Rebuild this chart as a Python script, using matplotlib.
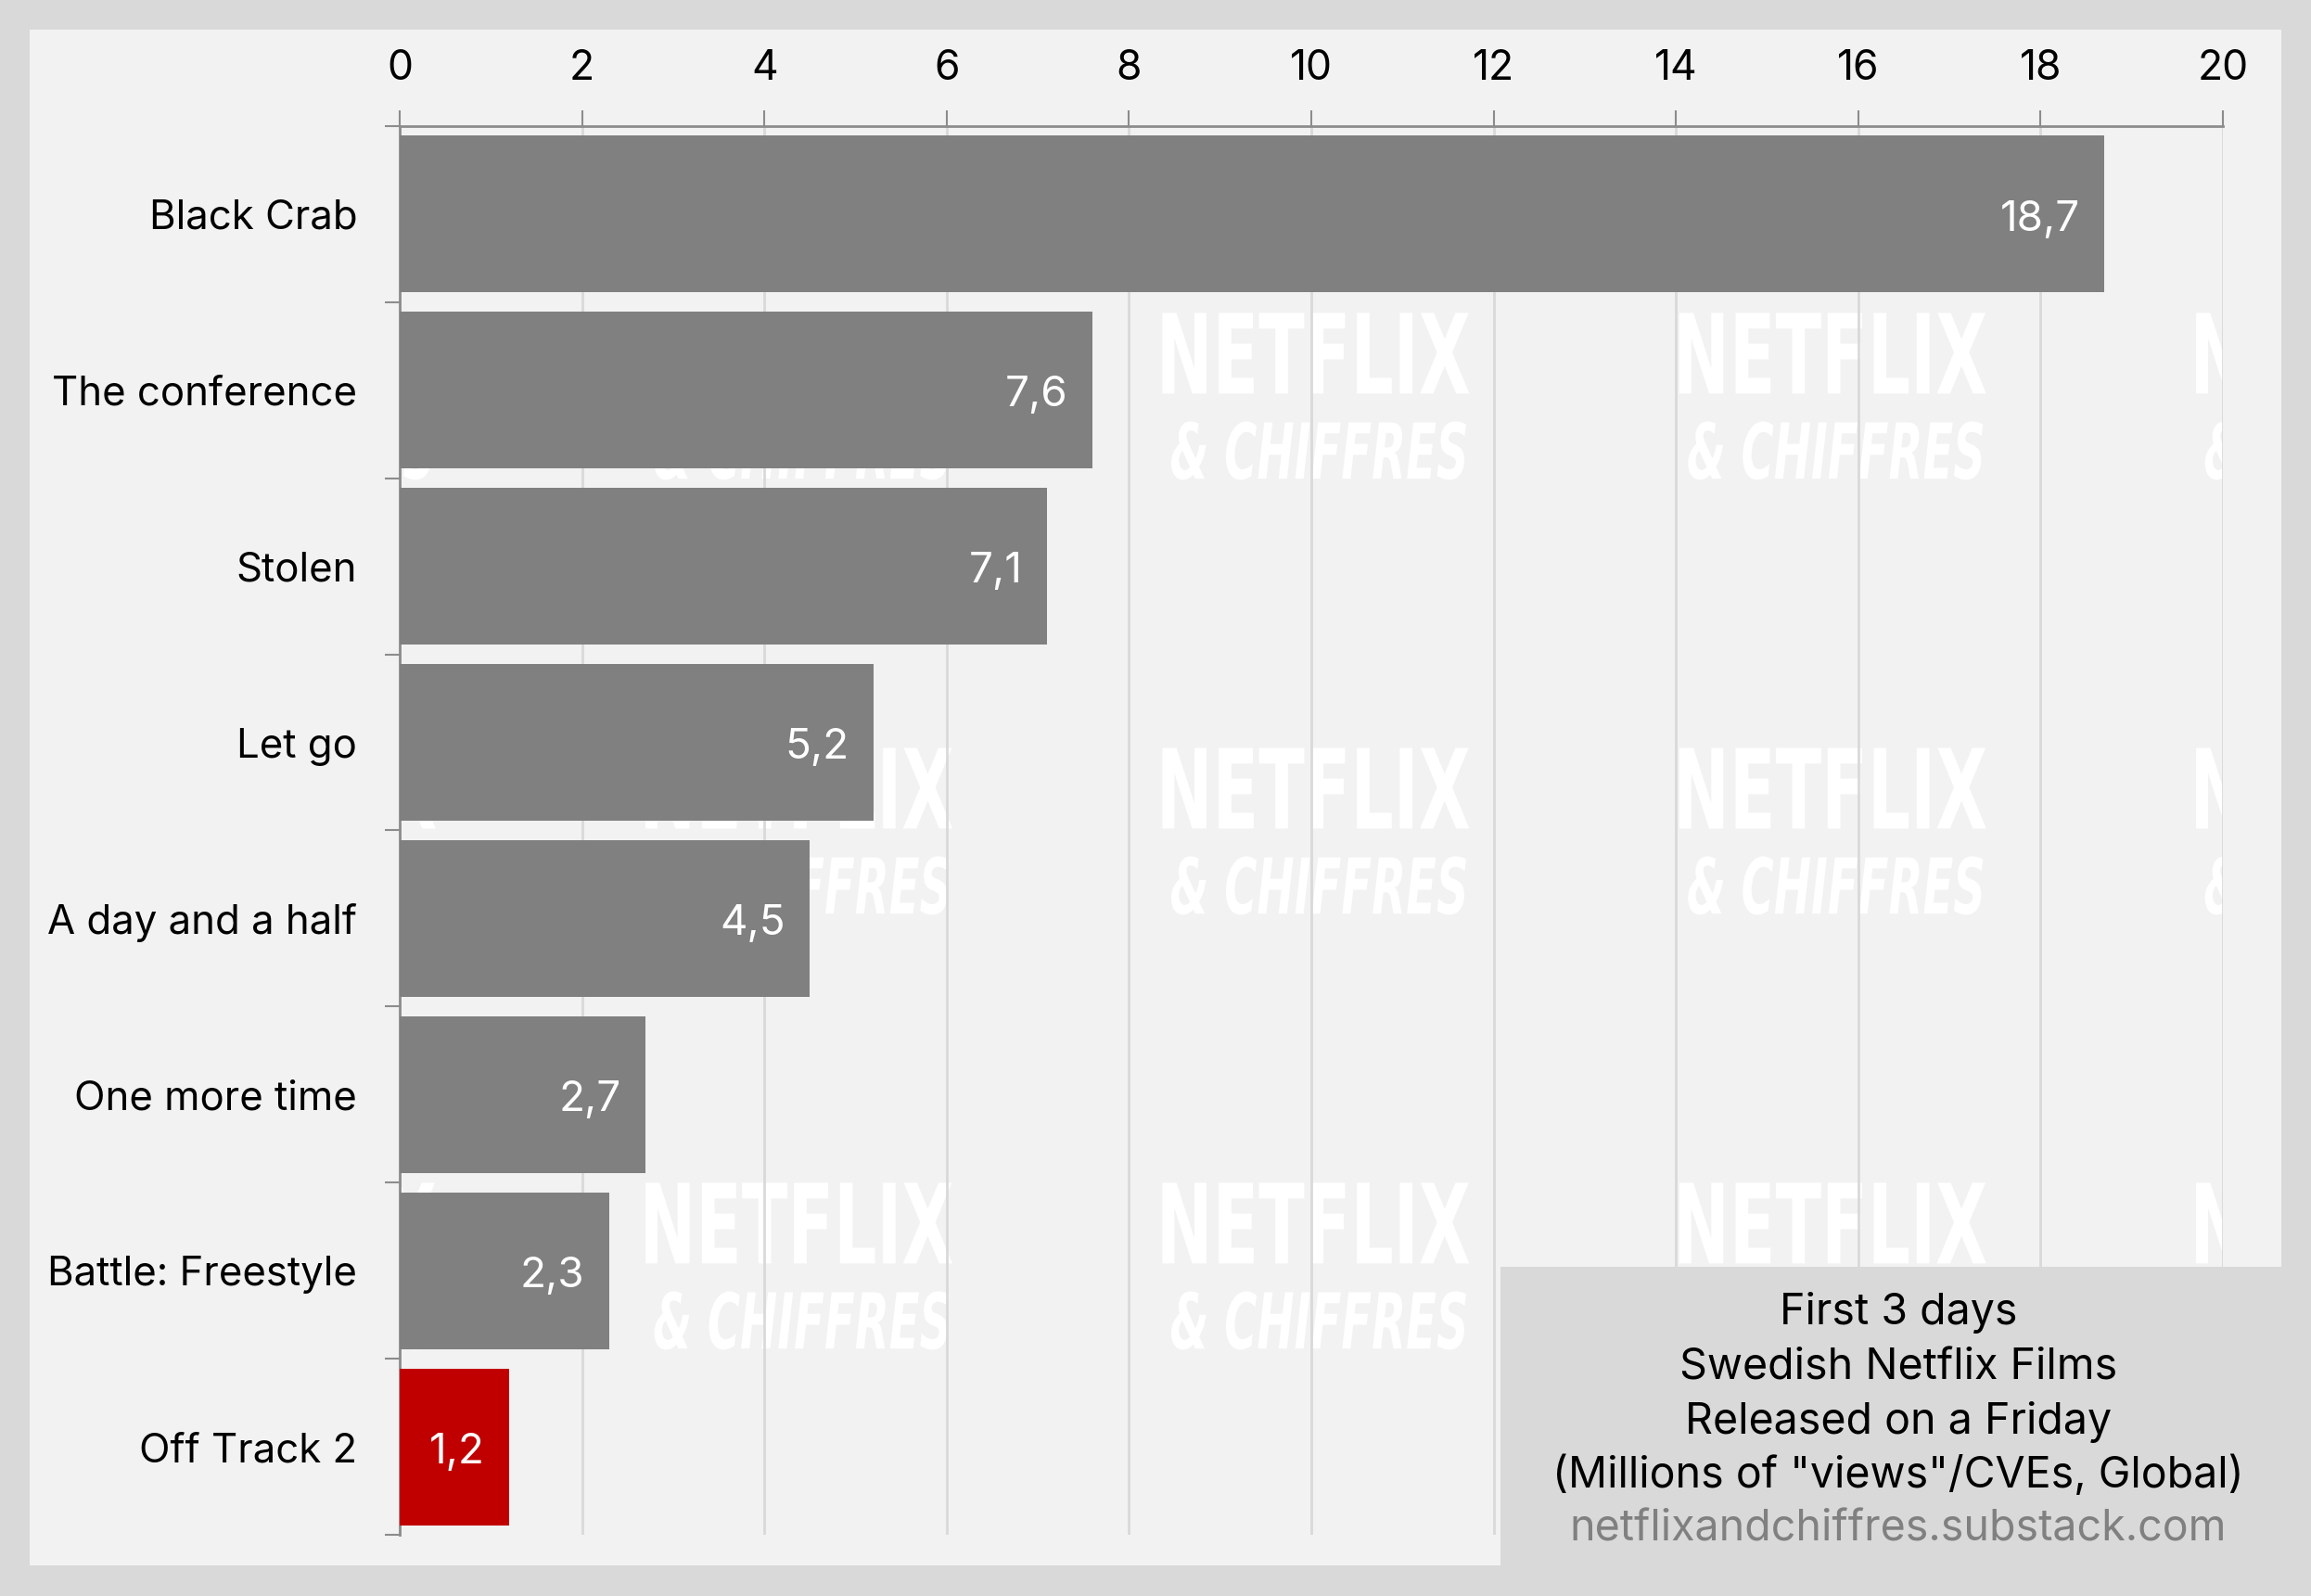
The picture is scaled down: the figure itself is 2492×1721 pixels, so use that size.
import matplotlib
matplotlib.use("Agg")
import matplotlib.pyplot as plt
from matplotlib.patches import Rectangle, PathPatch
from matplotlib.textpath import TextPath
from matplotlib.font_manager import FontProperties
from matplotlib.transforms import Affine2D, IdentityTransform

# data (millions of views, first 3 days)
titles = ["Black Crab", "The conference", "Stolen", "Let go",
          "A day and a half", "One more time", "Battle: Freestyle", "Off Track 2"]
views = [18.7, 7.6, 7.1, 5.2, 4.5, 2.7, 2.3, 1.2]
highlight = "Off Track 2"
x_ticks = list(range(0, 21, 2))

note_lines = ["First 3 days", "Swedish Netflix Films", "Released on a Friday",
              '(Millions of "views"/CVEs, Global)']
source = "netflixandchiffres.substack.com"

# watermark grid (decoration only, data units)
wm_x = [-1.29, 4.38, 10.05, 15.72, 21.39]
wm_y = [0.79, 3.26, 5.73]

plt.rcParams["font.family"] = ["Inter", "DejaVu Sans"]

fig = plt.figure(figsize=(24.92, 17.21), dpi=100)
fig.patch.set_facecolor("#d9d9d9")
fig.patches.append(Rectangle((0.01284, 0.01918), 0.9743, 0.9622, transform=fig.transFigure,
                             facecolor="#f2f2f2", edgecolor="none", zorder=-10))

ax = fig.add_axes([0.17295, 0.03835, 0.78892, 0.88265])
ax.set_facecolor("none")

colors = ["#c00000" if t == highlight else "#808080" for t in titles]
ypos = list(range(len(titles)))
ax.barh(ypos, views, height=0.89, color=colors, zorder=3)

for y, v in zip(ypos, views):
    ax.text(v - 0.27, y + 0.03, f"{v:.1f}".replace(".", ","), ha="right", va="center",
            color="white", fontsize=33, zorder=4)

ax.set_xlim(0, 20)
ax.set_ylim(len(titles) - 0.5, -0.5)
ax.xaxis.tick_top()
ax.set_xticks(x_ticks)
ax.tick_params(axis="x", length=12, width=1.5, color="#8c8c8c", pad=17.5, labelsize=32)
ax.grid(axis="x", color="#d9d9d9", linewidth=2, zorder=1)
ax.set_axisbelow(True)

ax.set_yticks(ypos)
ax.set_yticklabels(titles, fontsize=31.5)
ax.set_yticks([y - 0.5 for y in range(len(titles) + 1)], minor=True)
ax.tick_params(axis="y", which="major", length=0, pad=33)
ax.tick_params(axis="y", which="minor", length=11.5, width=1.5, color="#8c8c8c")

for s in ["right", "bottom"]:
    ax.spines[s].set_visible(False)
for s in ["top", "left"]:
    ax.spines[s].set_color("#8c8c8c")
    ax.spines[s].set_linewidth(2)


# watermark: condensed white lettering, clipped to the plot area, under the bars
def stamp(text, cx, cy, w, h, italic=False):
    fp = FontProperties(family="DejaVu Sans", weight="bold",
                        style="oblique" if italic else "normal")
    p = TextPath((0, 0), text, size=100, prop=fp)
    ext = p.get_extents()
    tr = (Affine2D()
          .translate(-ext.x0 - ext.width / 2, -ext.y0 - ext.height / 2)
          .scale(w / ext.width, h / ext.height)
          .translate(cx, cy))
    patch = PathPatch(tr.transform_path(p), facecolor="white", edgecolor="none",
                      transform=IdentityTransform(), zorder=0.5)
    ax.add_artist(patch)


for wx in wm_x:
    for wy in wm_y:
        px, py = ax.transData.transform((wx, wy))
        stamp("NETFLIX", px, py, 331, 87)
        stamp("& CHIFFRES", px + 3, py - 105, 318, 63, italic=True)

# note box in lower right
fig.patches.append(Rectangle((0.6493, 0.0), 0.3507, 0.2063, transform=fig.transFigure,
                             facecolor="#d9d9d9", edgecolor="none", zorder=5))
note_y = [1415, 1475, 1534, 1592]
for line, py in zip(note_lines, note_y):
    fig.text(2047 / 2492, 1 - py / 1721, line, ha="center", va="center",
             fontsize=33.5, color="black", zorder=6)
fig.text(2047 / 2492, 1 - 1650 / 1721, source, ha="center", va="center",
         fontsize=33.5, color="#808080", zorder=6)

fig.savefig("out.png", dpi=100, facecolor=fig.get_facecolor())
